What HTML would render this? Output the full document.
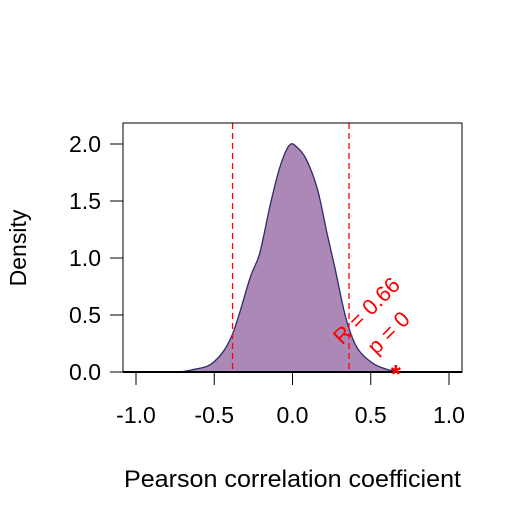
<!DOCTYPE html>
<html><head><meta charset="utf-8"><style>body{margin:0;background:#fff}svg{display:block}text{font-family:"Liberation Sans",sans-serif}</style></head>
<body>
<svg id="c" width="525" height="525"></svg>
<script>
const xs=[-0.72,-0.64,-0.51,-0.39,-0.27,-0.21,-0.14,-0.08,-0.02,0.03,0.09,0.16,0.22,0.27,0.34,0.41,0.51,0.61,0.70];
const ys=[0,0.02,0.08,0.31,0.83,1.04,1.48,1.80,1.99,1.97,1.86,1.60,1.22,0.92,0.48,0.22,0.08,0.02,0];
const xTicks=[-1,-0.5,0,0.5,1];
const xTickLabels=["-1.0","-0.5","0.0","0.5","1.0"];
const yTicks=[0,0.5,1,1.5,2];
const yTickLabels=["0.0","0.5","1.0","1.5","2.0"];
const ciBounds=[-0.383,0.361];
const observedR=[0.66];
const sx=v=>292.5+v*156.5, sy=v=>372-v*114;
const svg=document.getElementById('c');const NS='http://www.w3.org/2000/svg';
function mk(t,a,p){const e=document.createElementNS(NS,t);for(const k in a)e.setAttribute(k,a[k]);(p||svg).appendChild(e);return e;}
const P=xs.map((x,i)=>[sx(x),sy(ys[i])]);
let d='M'+P[0][0]+','+P[0][1];
for(let i=0;i<P.length-1;i++){const p0=P[Math.max(0,i-1)],p1=P[i],p2=P[i+1],p3=P[Math.min(P.length-1,i+2)];
d+=' C'+(p1[0]+(p2[0]-p0[0])/6)+','+(p1[1]+(p2[1]-p0[1])/6)+' '+(p2[0]-(p3[0]-p1[0])/6)+','+(p2[1]-(p3[1]-p1[1])/6)+' '+p2[0]+','+p2[1];}
d+='Z';
const area=mk('path',{d:d,fill:'#ab88b6',stroke:'#2e2a6e','stroke-width':1.3});


mk('line',{x1:123,y1:372,x2:462,y2:372,stroke:'#000','stroke-width':2});
ciBounds.forEach(b=>{const l=mk('line',{x1:sx(b),x2:sx(b),y1:123,y2:372,stroke:'#f00','stroke-width':1.3,'stroke-dasharray':'6,4'});

});
const fr=mk('rect',{x:123,y:123,width:339,height:249,fill:'none',stroke:'#000','stroke-width':1});


xTicks.forEach((v,i)=>{mk('line',{x1:sx(v),x2:sx(v),y1:372,y2:385,stroke:'#000'});
const t=mk('text',{x:sx(v),y:423,'text-anchor':'middle','font-size':23});t.textContent=xTickLabels[i];

});
yTicks.forEach((v,i)=>{mk('line',{x1:110,x2:123,y1:sy(v),y2:sy(v),stroke:'#000'});
const t=mk('text',{x:101,y:sy(v)+8,'text-anchor':'end','font-size':23});t.textContent=yTickLabels[i];

});
const xt=mk('text',{x:124,y:487,'font-size':24,textLength:337,lengthAdjust:'spacingAndGlyphs'});xt.textContent='Pearson correlation coefficient';


const yt=mk('text',{x:0,y:0,'text-anchor':'middle','font-size':23,transform:'translate(26,248) rotate(-90)'});yt.textContent='Density';


observedR.forEach(r=>{const s=mk('text',{x:sx(r),y:sy(0)+11,'text-anchor':'middle','font-size':26,fill:'#f00','font-weight':'bold'});s.textContent='*';


const a=mk('text',{x:0,y:0,'text-anchor':'middle','font-size':22,fill:'#f00',transform:'translate('+(sx(r)-24)+',316) rotate(-45)'});a.textContent='R = '+r;


const p=mk('text',{x:0,y:0,'text-anchor':'middle','font-size':22,fill:'#f00',transform:'translate('+(sx(r)-2)+',338) rotate(-45)'});p.textContent='p = 0';

});
</script>
</body></html>
